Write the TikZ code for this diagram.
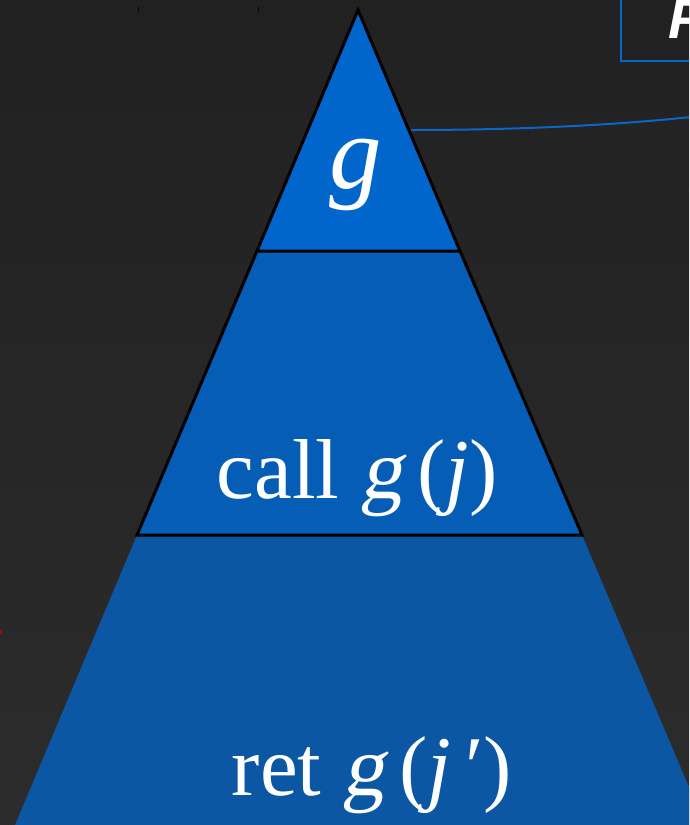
\documentclass[tikz,border=0pt]{standalone}
\usepackage{fontspec}
\setmainfont{Liberation Serif}
\newfontfamily\boxfont{Liberation Sans}
\newfontfamily\slantg[FakeSlant=0.18]{Liberation Serif}
\definecolor{topblue}{HTML}{0066CC}
\definecolor{midblue}{HTML}{065DB5}
\definecolor{lowblue}{HTML}{0B57A3}
\definecolor{lineblue}{HTML}{0A66C8}
\tikzset{
  layer/.style={draw=black, line width=3pt, line join=miter},
  lbl/.style={text=white, anchor=base, inner sep=0pt},
  link/.style={draw=lineblue, line width=2pt}
}
\begin{document}
\begin{tikzpicture}[x=1pt,y=-1pt]
\useasboundingbox (0,0) rectangle (689,825);
\clip (0,0) rectangle (689,825);
\shade[top color={rgb,255:red,33;green,33;blue,33}, bottom color={rgb,255:red,44;green,44;blue,44}] (0,0) rectangle (689,825);
% tiny marks
\draw[black, line width=1pt] (138,7) -- (138,12);
\draw[black, line width=1pt] (258,7) -- (258,12);
\fill[red!80!black] (0,632) circle (2);
% pyramid layers
\coordinate (apex) at (358,10);
\coordinate (l1) at (257,251);
\coordinate (r1) at (460,251);
\coordinate (l2) at (137,535);
\coordinate (r2) at (582,535);
\coordinate (l3) at (15,825);
\coordinate (r3) at (705,825);
\fill[lowblue] (l2) -- (l3) -- (r3) -- (r2) -- cycle;
\fill[midblue] (l1) -- (l2) -- (r2) -- (r1) -- cycle;
\draw[layer] (l1) -- (l2) -- (r2) -- (r1);
\filldraw[layer, fill=topblue] (apex) -- (l1) -- (r1) -- cycle;
% labels
\node[lbl, font=\fontsize{105}{110}\selectfont] (gtop) at (356,188) {\itshape g};
\node[lbl, font=\fontsize{85}{95}\selectfont] (call) at (357,498) {call {\slantg g}\,({\itshape j})};
\node[lbl, font=\fontsize{85}{95}\selectfont] (ret) at (372,795) {ret {\slantg g}\,({\itshape j}\,′)};
% box top right
\node[draw=lineblue, line width=2pt, minimum width=120pt, minimum height=80pt, anchor=south west, inner sep=0pt] (box) at (620,62) {};
\node[text=white, anchor=base west, inner sep=0pt, font=\boxfont\bfseries\itshape\fontsize{56}{60}\selectfont] (boxtxt) at (668,38) {F};
% connector
\coordinate (linkend) at (700,116);
\coordinate (linkstart) at (411,130);
\draw[link] (linkstart) .. controls (520,130) and (620,125) .. (linkend);
\end{tikzpicture}
\end{document}
